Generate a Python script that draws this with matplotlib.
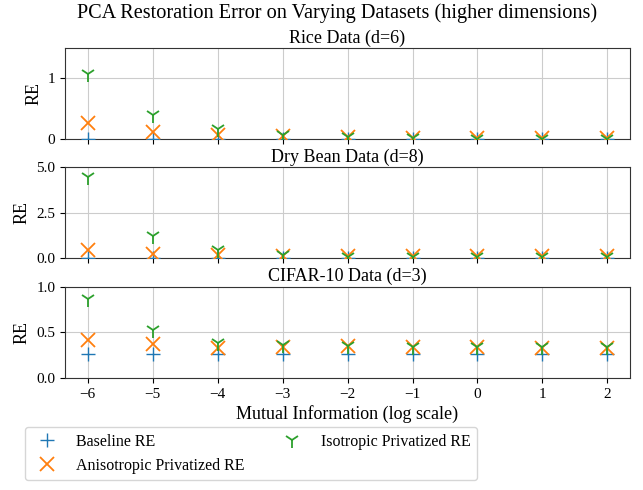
import matplotlib
matplotlib.use("Agg")
import matplotlib.pyplot as plt

plt.rcParams['font.family'] = ['Liberation Serif', 'DejaVu Serif']
plt.rcParams['mathtext.fontset'] = 'stix'

mi = [-6, -5, -4, -3, -2, -1, 0, 1, 2]

# Rice data (d=6)
riceBase = [0.01, 0.01, 0.01, 0.01, 0.01, 0.01, 0.01, 0.01, 0.01]
riceAniso = [0.27, 0.12, 0.07, 0.05, 0.03, 0.02, 0.02, 0.02, 0.02]
riceIso = [1.08, 0.40, 0.16, 0.07, 0.03, 0.02, 0.01, 0.01, 0.01]

# Dry bean data (d=8)
beanBase = [0.05, 0.05, 0.05, 0.05, 0.05, 0.05, 0.05, 0.05, 0.05]
beanAniso = [0.45, 0.22, 0.17, 0.14, 0.12, 0.12, 0.12, 0.12, 0.12]
beanIso = [4.45, 1.25, 0.45, 0.18, 0.10, 0.08, 0.07, 0.07, 0.07]

# CIFAR-10 data (d=3)
cifarBase = [0.26, 0.26, 0.26, 0.26, 0.26, 0.26, 0.26, 0.26, 0.26]
cifarAniso = [0.42, 0.37, 0.33, 0.34, 0.35, 0.34, 0.34, 0.33, 0.33]
cifarIso = [0.86, 0.52, 0.38, 0.36, 0.35, 0.34, 0.34, 0.34, 0.34]

titles = ["Rice Data (d=6)", "Dry Bean Data (d=8)", "CIFAR-10 Data (d=3)"]
series = [(riceBase, riceAniso, riceIso),
          (beanBase, beanAniso, beanIso),
          (cifarBase, cifarAniso, cifarIso)]
ylims = [(0, 1.5), (0, 5.0), (0, 1.0)]
yticks = [[0, 1], [0.0, 2.5, 5.0], [0.0, 0.5, 1.0]]
yticklabels = [["0", "1"], ["0.0", "2.5", "5.0"], ["0.0", "0.5", "1.0"]]

fig, axes = plt.subplots(3, 1, sharex=True, figsize=(6.43, 4.9), dpi=100)
fig.subplots_adjust(left=0.101, right=0.98, top=0.902, bottom=0.229, hspace=0.31)

for i, ax in enumerate(axes):
    base, aniso, iso = series[i]
    ax.plot(mi, base, linestyle='none', marker='+', markersize=10, color='tab:blue',
            label="Baseline RE", zorder=3)
    ax.plot(mi, aniso, linestyle='none', marker='x', markersize=10, markeredgewidth=1.3,
            color='tab:orange', label="Anisotropic Privatized RE", zorder=3)
    ax.plot(mi, iso, linestyle='none', marker='1', markersize=11, markeredgewidth=1.3,
            color='tab:green', label="Isotropic Privatized RE", zorder=3)
    ax.set_title(titles[i], fontsize=13, pad=4)
    ax.set_ylabel("RE", fontsize=13)
    ax.set_ylim(*ylims[i])
    ax.set_yticks(yticks[i])
    ax.set_yticklabels(yticklabels[i])
    ax.grid(True, color='#cccccc', linewidth=0.8)
    ax.set_axisbelow(True)
    ax.tick_params(labelsize=11)
    for s in ax.spines.values():
        s.set_color('#333333')

axes[2].set_xticks(mi)
axes[2].set_xticklabels(["\u2212%d" % -v if v < 0 else str(v) for v in mi])
axes[2].set_xlim(-6.35, 2.35)
axes[2].set_xlabel("Mutual Information (log scale)", fontsize=13, labelpad=3)

fig.suptitle("PCA Restoration Error on Varying Datasets (higher dimensions)", fontsize=14.6,
             x=0.524, y=0.993)

handles, labels = axes[0].get_legend_handles_labels()
fig.legend(handles, labels, loc='lower left', bbox_to_anchor=(0.026, 0.004), ncol=2,
           fontsize=11.5)

fig.savefig("out.png")
